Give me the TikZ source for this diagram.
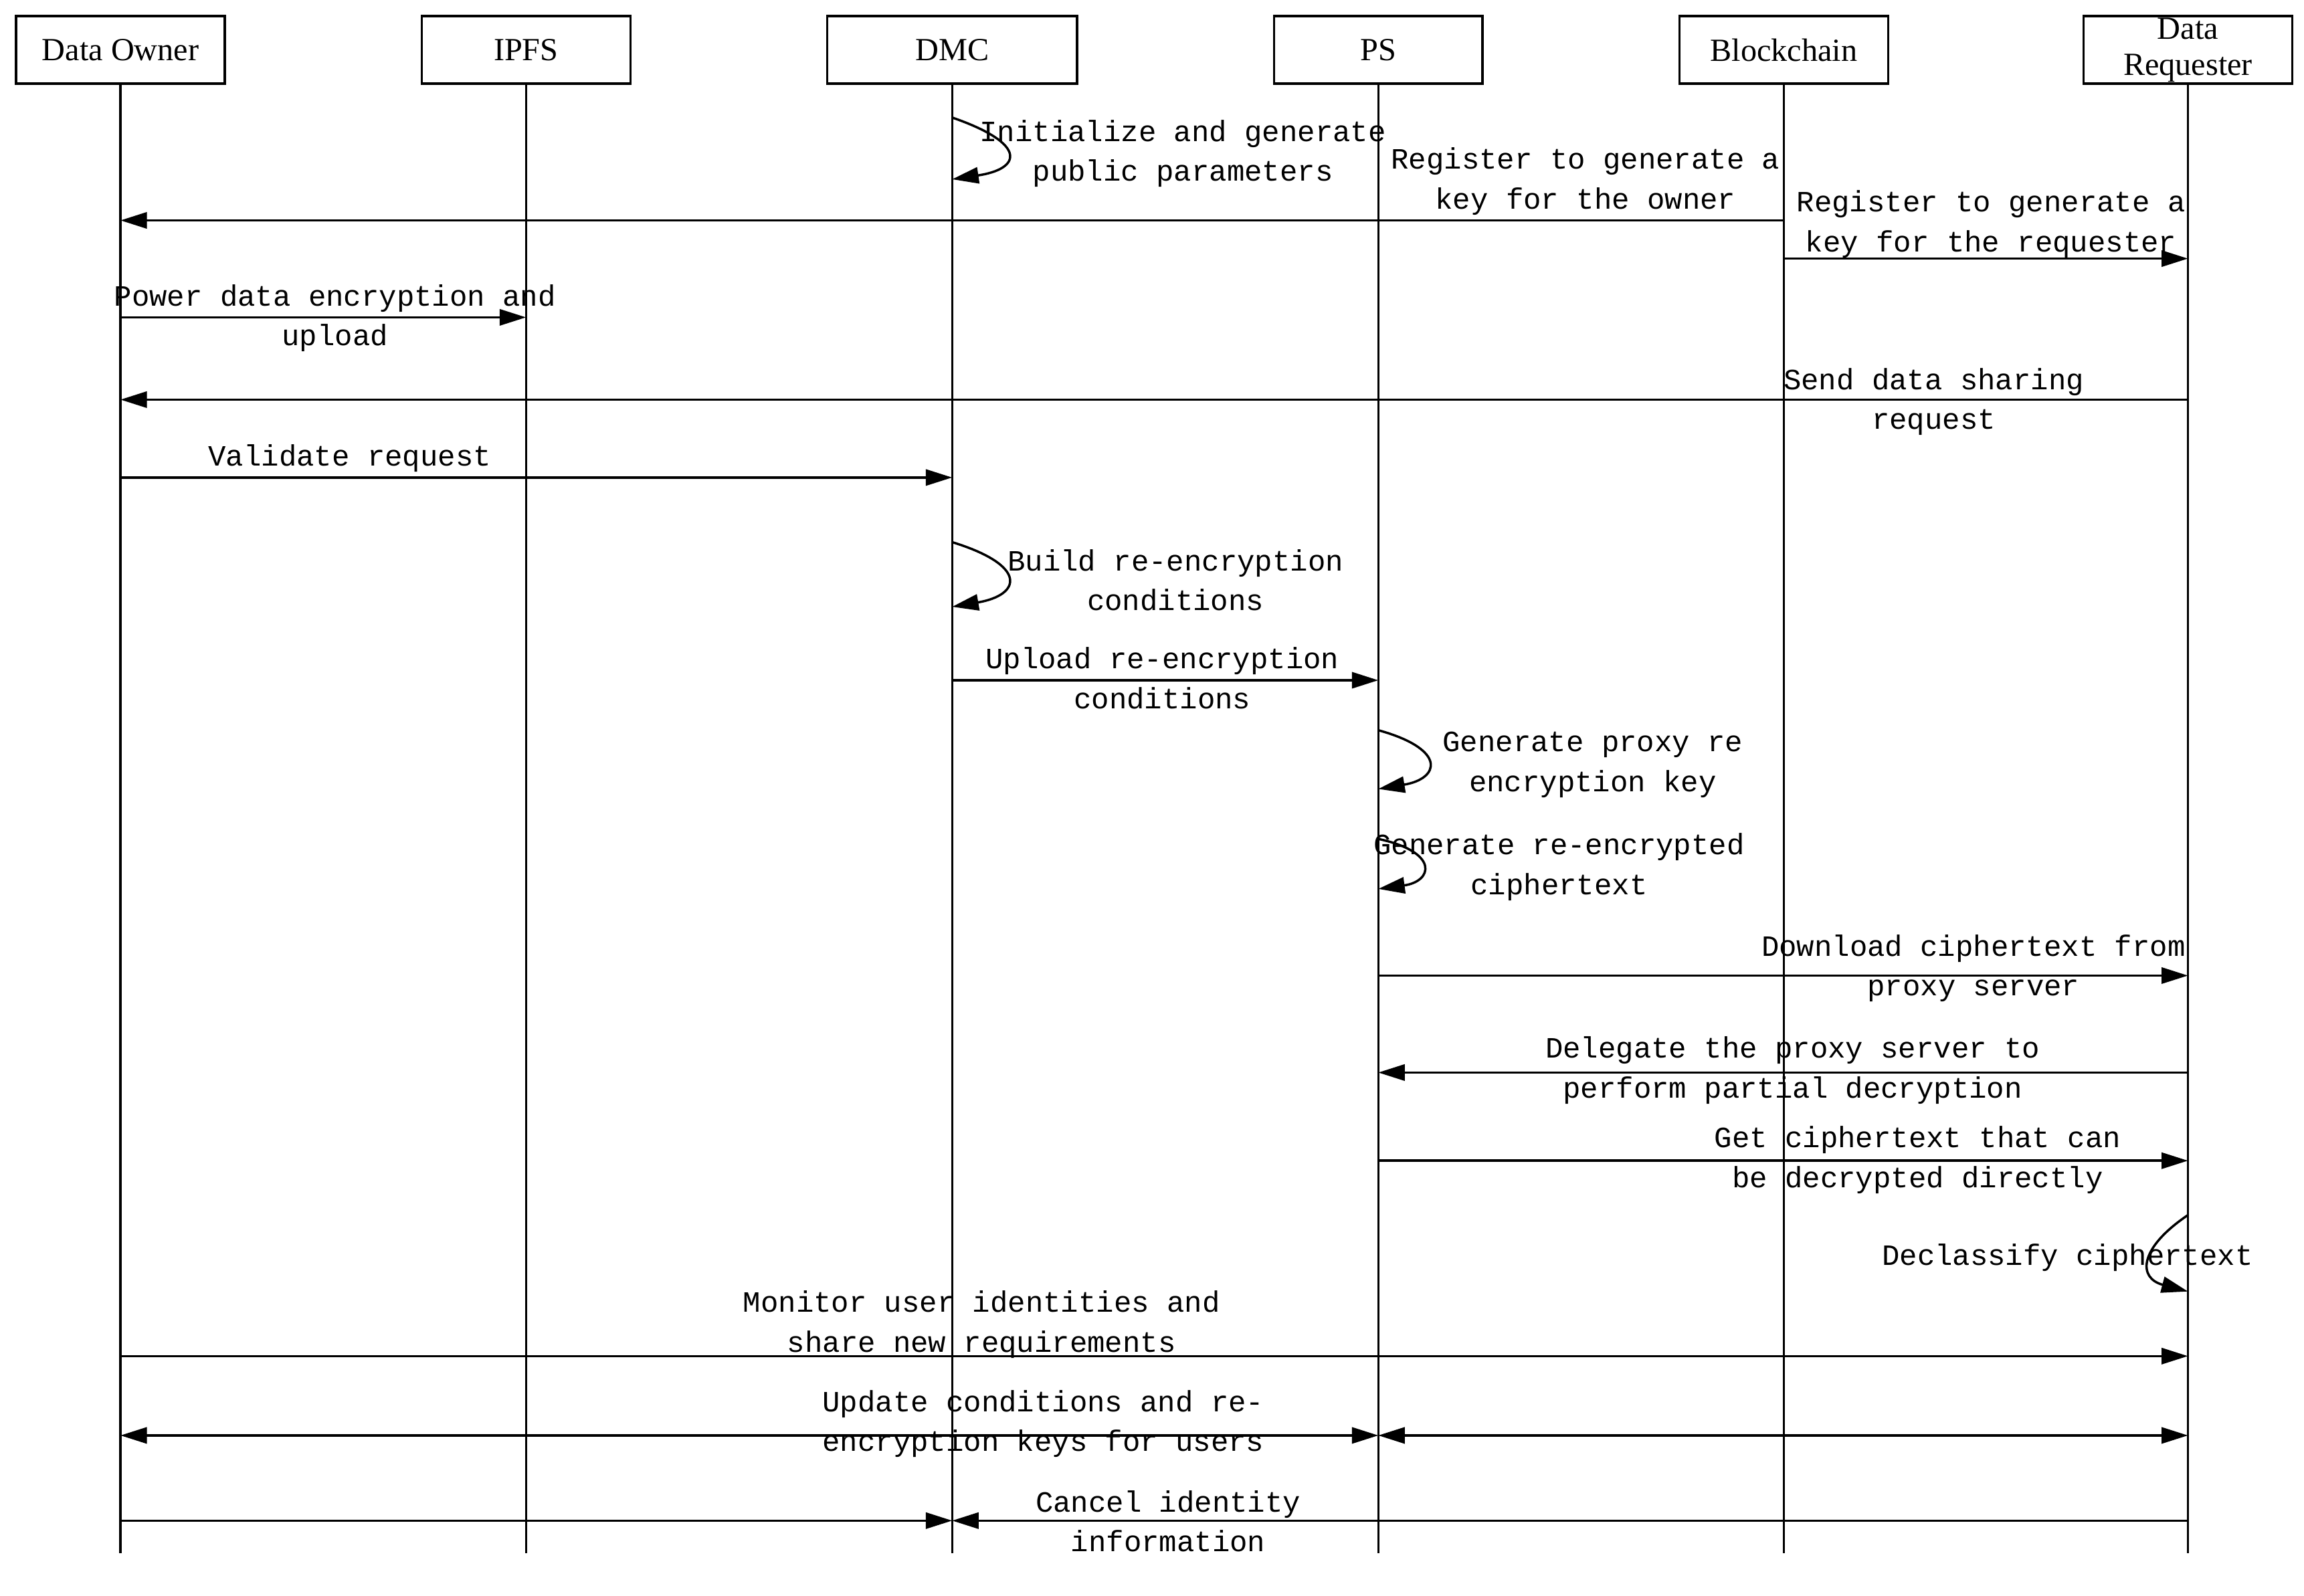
\documentclass[tikz,border=0pt]{standalone}
\usepackage{fontspec}
\setmainfont{Liberation Serif}
\newfontfamily\lblfont{Liberation Mono}
\usetikzlibrary{arrows.meta}
\begin{document}
\begin{tikzpicture}[x=0.02cm,y=-0.02cm,
  hdr/.style={draw,line width=0.9pt,minimum width=2.84cm,minimum height=0.92cm,inner sep=0pt,font=\fontsize{12.5}{13}\selectfont,align=center},
  life/.style={line width=0.9pt},
  msg/.style={line width=0.9pt,-{Triangle[length=0.36cm,width=0.22cm]}},
  dmsg/.style={line width=0.9pt,{Triangle[length=0.36cm,width=0.22cm]}-{Triangle[length=0.36cm,width=0.22cm]}},
  lbl/.style={font=\lblfont\fontsize{11.4}{15.4}\selectfont,align=center,inner sep=0pt}]
\useasboundingbox (0,0) rectangle (1568,1086);
\foreach \n/\x/\t in {do/82/Data Owner,ip/358/IPFS,ps/938/PS,bc/1214/Blockchain} {
  \node[hdr] (\n) at (\x,34) {\t};
  \coordinate (\n e) at (\x,1057);
  \draw[life] (\n.south) -- (\n e);
}
\node[hdr,minimum width=3.4cm] (dm) at (648,34) {DMC};
\coordinate (dme) at (648,1057);
\draw[life] (dm.south) -- (dme);
\node[hdr,font=\fontsize{12.5}{13.5}\selectfont] (dr) at (1489,34) {Data\\[0.5pt]Requester};
\coordinate (dre) at (1489,1057);
\draw[life] (dr.south) -- (dre);
% helper coordinates
\foreach \n/\x in {do/82,ip/358,dm/648,ps/938,bc/1214,dr/1489} {
  \foreach \y in {80,122,150,176,216,272,325,369,413,463,497,537,571,605,664,730,790,827,879,923,977,1035} {
    \coordinate (\n\y) at (\x,\y);
  }
}
% DMC self
\draw[msg] (dm80) .. controls (700,98) and (695,115) .. (dm122);
\node[lbl] (l1) at (805,104.5) {Initialize and generate\\public parameters};
\draw[msg] (bc150) -- (do150);
\node[lbl] (l2) at (1079,123.5) {Register to generate a\\key for the owner};
\draw[msg] (bc176) -- (dr176);
\node[lbl] (l3) at (1355,152.5) {Register to generate a\\key for the requester};
\draw[msg] (do216) -- (ip216);
\node[lbl] (l4) at (228,216.5) {Power data encryption and\\upload};
\draw[msg] (dr272) -- (do272);
\node[lbl] (l5) at (1316,273.5) {Send data sharing\\request};
\draw[msg] (do325) -- (dm325);
\node[lbl] (l6) at (238,312) {Validate request};
\draw[msg] (dm369) .. controls (700,385) and (695,405) .. (dm413);
\node[lbl] (l7) at (800,395) {Build re-encryption\\conditions};
\draw[msg] (dm463) -- (ps463);
\node[lbl] (l8) at (791,461.5) {Upload re-encryption\\conditions};
\draw[msg] (ps497) .. controls (985,510) and (980,530) .. (ps537);
\node[lbl] (l9) at (1084,520.5) {Generate proxy re\\encryption key};
\draw[msg] (ps571) .. controls (980,580) and (975,600) .. (ps605);
\node[lbl] (l10) at (1061,590) {Generate re-encrypted\\ciphertext};
\draw[msg] (ps664) -- (dr664);
\node[lbl] (l11) at (1343,659) {Download ciphertext from\\proxy server};
\draw[msg] (dr730) -- (ps730);
\node[lbl] (l12) at (1220,728.5) {Delegate the proxy server to\\perform partial decryption};
\draw[msg] (ps790) -- (dr790);
\node[lbl] (l13) at (1305,789.5) {Get ciphertext that can\\be decrypted directly};
\draw[msg] (dr827) .. controls (1455,850) and (1455,870) .. (dr879);
\node[lbl] (l14) at (1407,856) {Declassify ciphertext};
\draw[msg] (do923) -- (dr923);
\node[lbl] (l15) at (668,901.5) {Monitor user identities and\\share new requirements};
\draw[dmsg] (do977) -- (ps977);
\draw[dmsg] (ps977) -- (dr977);
\node[lbl] (l16) at (710,969) {Update conditions and re-\\encryption keys for users};
\draw[msg] (do1035) -- (dm1035);
\draw[msg] (dr1035) -- (dm1035);
\node[lbl] (l17) at (795,1035.5) {Cancel identity\\information};
\end{tikzpicture}
\end{document}
